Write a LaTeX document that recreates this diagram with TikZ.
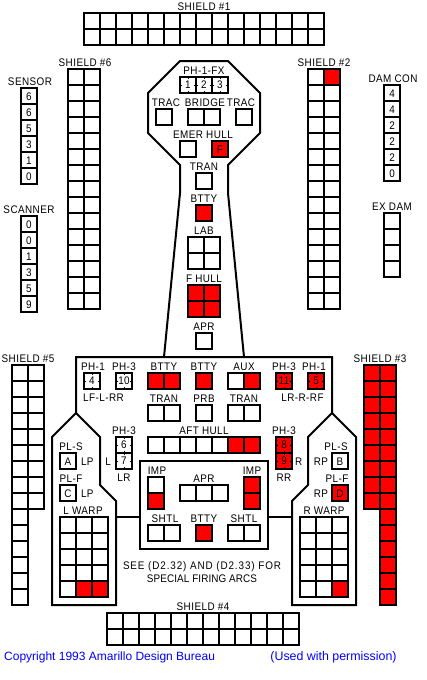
\documentclass[tikz,border=0pt]{standalone}
\usepackage{xcolor}
\usepackage{fontspec}
\usepackage{tikz}
\usetikzlibrary{positioning}
\setmainfont[FakeStretch=0.9,LetterSpace=4]{Liberation Sans}
\newfontfamily\creditfont{Liberation Sans}
\definecolor{Hit}{HTML}{FF0000}
\definecolor{Credit}{HTML}{0000FF}

\begin{document}
\begin{tikzpicture}[
    x=1pt,y=-1pt,
    font=\fontsize{11}{13}\selectfont,
    cell/.style={rectangle,draw=black,fill=white,line width=2pt,minimum size=16pt,inner sep=0pt,outer sep=0pt,anchor=north west},
    hit/.style={cell,anchor=center,fill=Hit},
    ph/.style={cell,anchor=center,path picture={
        \foreach \a in {north,south,east,west}
            \draw[line width=1pt,shorten >=6pt] (path picture bounding box.\a) -- (path picture bounding box.center);
    }},
    lbl/.style={inner sep=0pt,outer sep=0pt,text height=8pt,text depth=0pt},
    credit/.style={inner sep=0pt,text=Credit,font=\creditfont\fontsize{12}{14}\selectfont},
    hull/.style={line width=2pt,draw=black}
]
\useasboundingbox (0,0) rectangle (427,680);

% hull outlines
\draw[hull] (164,357) -- (180,193) -- (180,165) -- (148,133) -- (148,93) -- (180,61) -- (228,61) -- (260,93) -- (260,133) -- (228,165) -- (228,193) -- (244,357);
\draw[hull] (76,413) -- (76,357) -- (332,357) -- (332,413) -- (308,437) -- (308,485) -- (292,501) -- (292,605) -- (356,605) -- (356,437) -- (332,413);
\draw[hull] (76,413) -- (52,437) -- (52,605) -- (116,605) -- (116,501) -- (100,485) -- (100,437) -- cycle;
\node[rectangle,draw=black,line width=2pt,minimum width=128pt,minimum height=88pt,inner sep=0pt,outer sep=0pt,anchor=north west] (core) at (140,461) {};
\coordinate (lwing) at (116,517);
\coordinate (rwing) at (292,517);
\draw[hull] (lwing) -- (lwing -| core.west);
\draw[hull] (core.east |- rwing) -- (rwing);

% box grids: name/left/top/columns/rows
\foreach \nm/\x/\y/\cols/\rows in {
    shieldone/84/13/15/2,shieldsix/68/69/2/15,sensor/21/88/1/6,scanner/21/216/1/6,
    shieldtwo/308/69/2/15,damcon/384/85/1/6,exdam/384/213/1/4,
    fx/180/77/3/1,ltrac/156/109/1/1,bridge/188/109/2/1,rtrac/236/109/1/1,
    emer/180/141/1/1,fwdhull/212/141/1/1,tran/196/173/1/1,btty/196/205/1/1,
    lab/188/237/2/2,fhull/188/285/2/2,apr/196/333/1/1,
    phone/84/373/1/1,phthree/116/373/1/1,bttyl/148/373/2/1,bttym/196/373/1/1,aux/228/373/2/1,
    phell/276/373/1/1,phfive/308/373/1/1,tranl/148/405/2/1,prb/196/405/1/1,tranr/228/405/2/1,
    afthull/148/437/7/1,phsix/116/437/1/2,pheight/276/437/1/2,
    pla/60/453/1/1,plc/60/485/1/1,plb/332/453/1/1,pld/332/485/1/1,
    lwarp/60/517/3/5,rwarp/300/517/3/5,impl/148/477/1/2,impr/244/477/1/2,aprb/180/485/3/1,
    shtll/148/525/2/1,bttyb/196/525/1/1,shtlr/228/525/2/1,
    shieldfour/107/613/12/2,shieldfive/12/365/2/9,tailfive/12/509/1/6} {
    \coordinate (\nm) at ({\x+8*\cols},\y);
    \foreach \col in {1,...,\cols}
        \foreach \row in {1,...,\rows}
            \node[cell] (\nm-\col-\row) at ({\x+16*(\col-1)},{\y+16*(\row-1)}) {};
}

% shield 3 is all gone
\foreach \nm/\x/\y/\cols/\rows in {shieldthree/364/365/2/9,tailthree/380/509/1/6} {
    \coordinate (\nm) at ({\x+8*\cols},\y);
    \foreach \col in {1,...,\cols}
        \foreach \row in {1,...,\rows}
            \node[cell,fill=Hit] (\nm-\col-\row) at ({\x+16*(\col-1)},{\y+16*(\row-1)}) {};
}

% single hits
\foreach \c in {shieldtwo-2-1,fwdhull-1-1,btty-1-1,fhull-1-1,fhull-2-1,fhull-1-2,fhull-2-2,
    bttyl-1-1,bttyl-2-1,bttym-1-1,aux-2-1,afthull-6-1,afthull-7-1,pld-1-1,
    lwarp-2-5,lwarp-3-5,rwarp-3-5,impl-1-2,impr-1-1,impr-1-2,bttyb-1-1}
    \node[hit] (\c-hit) at (\c) {};

% phasers
\foreach \c/\v/\clr in {fx-1-1/1/white,fx-2-1/2/white,fx-3-1/3/white,phone-1-1/4/white,phthree-1-1/10/white,
    phsix-1-1/6/white,phsix-1-2/7/white,phell-1-1/11/Hit,phfive-1-1/5/Hit,pheight-1-1/8/Hit,pheight-1-2/9/Hit}
    \node[ph,fill=\clr] (\c-wpn) at (\c) {\v};

% track values
\foreach \v [count=\i] in {6,6,5,3,1,0}
    \node[lbl] (sensorval-\i) at (sensor-1-\i) {\v};
\foreach \v [count=\i] in {0,0,1,3,5,9}
    \node[lbl] (scannerval-\i) at (scanner-1-\i) {\v};
\foreach \v [count=\i] in {4,4,2,2,2,0}
    \node[lbl] (damconval-\i) at (damcon-1-\i) {\v};
\node[lbl] (fwdhullval) at (fwdhull-1-1) {F};
\node[lbl] (plaval) at (pla-1-1) {A};
\node[lbl] (plbval) at (plb-1-1) {B};
\node[lbl] (plcval) at (plc-1-1) {C};
\node[lbl] (pldval) at (pld-1-1) {D};

% titles above the boxes
\node[lbl,above=3pt of shieldone] (shieldonelbl) {SHIELD \#1};
\node[lbl,above=3pt of shieldtwo] (shieldtwolbl) {SHIELD \#2};
\node[lbl,above=3pt of shieldthree] (shieldthreelbl) {SHIELD \#3};
\node[lbl,above=3pt of shieldfour] (shieldfourlbl) {SHIELD \#4};
\node[lbl,above=3pt of shieldfive] (shieldfivelbl) {SHIELD \#5};
\node[lbl,above=3pt of shieldsix,xshift=1pt] (shieldsixlbl) {SHIELD \#6};
\node[lbl,above=3pt of sensor,xshift=1pt] (sensorlbl) {SENSOR};
\node[lbl,above=3pt of scanner] (scannerlbl) {SCANNER};
\node[lbl,above=3pt of damcon,xshift=1pt] (damconlbl) {DAM CON};
\node[lbl,above=3pt of exdam] (exdamlbl) {EX DAM};
\node[lbl,above=3pt of fx] (fxlbl) {PH-1-FX};
\node[lbl,above=3pt of ltrac,xshift=2pt] (ltraclbl) {TRAC};
\node[lbl,above=3pt of bridge,xshift=1pt] (bridgelbl) {BRIDGE};
\node[lbl,above=3pt of rtrac,xshift=-3pt] (rtraclbl) {TRAC};
\node[lbl] (emerlbl) at (203,134) {EMER HULL};
\node[lbl,above=3pt of tran] (tranlbl) {TRAN};
\node[lbl,above=3pt of btty] (bttylbl) {BTTY};
\node[lbl,above=3pt of lab] (lablbl) {LAB};
\node[lbl,above=3pt of fhull] (fhulllbl) {F HULL};
\node[lbl,above=3pt of apr] (aprlbl) {APR};
\node[lbl,above=3pt of phone,xshift=1pt] (phonelbl) {PH-1};
\node[lbl,above=3pt of phthree] (phthreelbl) {PH-3};
\node[lbl,above=3pt of bttyl] (bttyllbl) {BTTY};
\node[lbl,above=3pt of bttym] (bttymlbl) {BTTY};
\node[lbl,above=3pt of aux] (auxlbl) {AUX};
\node[lbl,above=3pt of phell] (phelllbl) {PH-3};
\node[lbl,above=3pt of phfive,xshift=-2pt] (phfivelbl) {PH-1};
\node[lbl,above=3pt of tranl] (tranllbl) {TRAN};
\node[lbl,above=3pt of prb] (prblbl) {PRB};
\node[lbl,above=3pt of tranr] (tranrlbl) {TRAN};
\node[lbl,above=3pt of afthull] (afthulllbl) {AFT HULL};
\node[lbl,above=3pt of phsix] (phsixlbl) {PH-3};
\node[lbl,above=3pt of pheight] (pheightlbl) {PH-3};
\node[lbl,above=3pt of pla,xshift=3pt] (plalbl) {PL-S};
\node[lbl,above=3pt of plc,xshift=3pt] (plclbl) {PL-F};
\node[lbl,above=3pt of plb,xshift=-4pt] (plblbl) {PL-S};
\node[lbl,above=3pt of pld,xshift=-3pt] (pldlbl) {PL-F};
\node[lbl,above=3pt of lwarp,xshift=-1pt] (lwarplbl) {L WARP};
\node[lbl,above=3pt of rwarp] (rwarplbl) {R WARP};
\node[lbl,above=3pt of impl,xshift=1pt] (impllbl) {IMP};
\node[lbl,above=3pt of impr] (imprlbl) {IMP};
\node[lbl,above=3pt of aprb] (aprblbl) {APR};
\node[lbl,above=3pt of shtll,xshift=1pt] (shtlllbl) {SHTL};
\node[lbl,above=3pt of bttyb] (bttyblbl) {BTTY};
\node[lbl,above=3pt of shtlr] (shtlrlbl) {SHTL};

% arcs beside the boxes
\node[lbl] (leftarcs) at (103.5,397) {LF-L-RR};
\node[lbl] (rightarcs) at (302.5,397) {LR-R-RF};
\node[lbl,left=5pt of phsix-1-2] (phsevenl) {L};
\node[lbl,below=4pt of phsix-1-2] (phsevenlr) {LR};
\node[lbl,right=3pt of pheight-1-2] (phniner) {R};
\node[lbl,below=4pt of pheight-1-2] (phninerr) {RR};
\node[lbl,right=5pt of pla-1-1] (plalp) {LP};
\node[lbl,right=5pt of plc-1-1] (plclp) {LP};
\node[lbl,left=4pt of plb-1-1] (plbrp) {RP};
\node[lbl,left=4pt of pld-1-1] (pldrp) {RP};

\node[lbl,font=\addfontfeatures{LetterSpace=8}\fontsize{11}{13}\selectfont] (seenote) at (202,565) {SEE (D2.32) AND (D2.33) FOR};
\node[lbl,below=5pt of seenote,font=\addfontfeatures{LetterSpace=1}\fontsize{11}{13}\selectfont] (arcnote) {SPECIAL FIRING ARCS};
\node[credit,anchor=west] (copyline) at (4,657) {Copyright 1993 Amarillo Design Bureau};
\node[credit,font=\creditfont\fontsize{12.4}{14}\selectfont] (permline) at (333.5,657) {(Used with permission)};
\end{tikzpicture}
\end{document}
